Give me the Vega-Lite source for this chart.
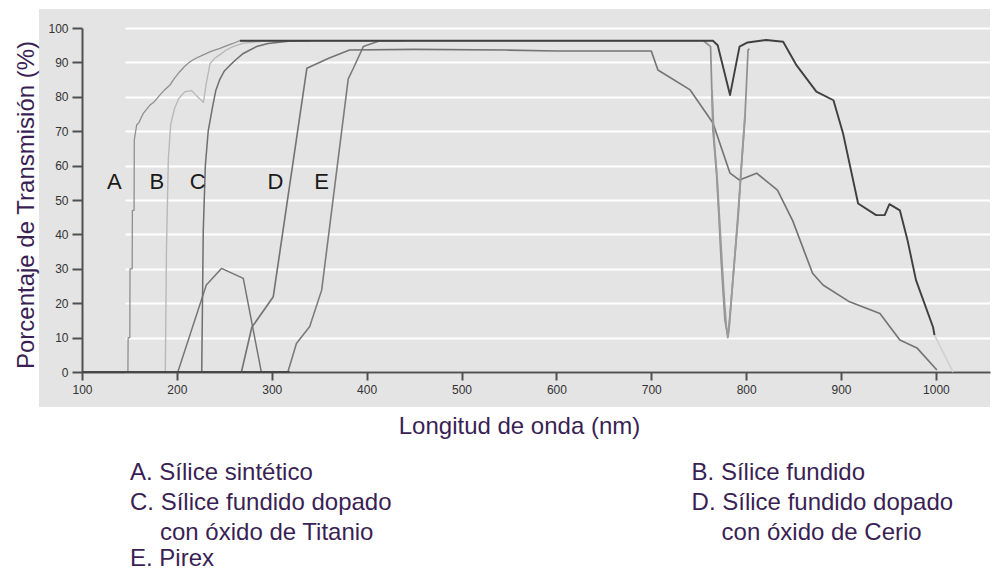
{
  "$schema": "https://vega.github.io/schema/vega-lite/v6.json",
  "width": 951,
  "height": 398,
  "autosize": {"type": "none"},
  "padding": {"left": 39, "top": 9, "right": 4, "bottom": 164},
  "background": "white",
  "resolve": {"axis": {"x": "independent", "y": "independent"}},
  "config": {
    "view": {"fill": "#e4e4e4", "stroke": null},
    "font": "Liberation Sans",
    "axis": {
      "domainColor": "#505050", "domainWidth": 2,
      "tickColor": "#505050", "tickWidth": 2,
      "labelFont": "Liberation Sans", "labelFontSize": 12, "labelColor": "#333333",
      "labelPadding": 4, "labelFlush": false, "labelOverlap": false,
      "labelExpr": "datum.value",
      "titleFont": "Liberation Sans", "titleFontSize": 24, "titleFontWeight": "normal", "titleColor": "#3a1f55",
      "titleAlign": "center", "titleBaseline": "alphabetic"
    },
    "axisX": {"offset": -35, "grid": false, "tickSize": 8, "titleX": 480, "titleY": 61},
    "axisY": {"offset": -43, "grid": true, "gridColor": "#ffffff", "gridWidth": 2, "gridOpacity": 1, "tickSize": 10, "titleAngle": 270, "titleX": -49, "titleY": 195.5}
  },
  "datasets": {
    "curvas": [
      {"tramo": "A", "longitud_nm": 100, "transmision": 0},
      {"tramo": "A", "longitud_nm": 148.4, "transmision": 0},
      {"tramo": "A", "longitud_nm": 148.6, "transmision": 10},
      {"tramo": "A", "longitud_nm": 150.4, "transmision": 10},
      {"tramo": "A", "longitud_nm": 150.6, "transmision": 30},
      {"tramo": "A", "longitud_nm": 152.9, "transmision": 30},
      {"tramo": "A", "longitud_nm": 153.1, "transmision": 47},
      {"tramo": "A", "longitud_nm": 154.9, "transmision": 47},
      {"tramo": "A", "longitud_nm": 155.1, "transmision": 67.4},
      {"tramo": "A", "longitud_nm": 157.6, "transmision": 71.8},
      {"tramo": "A", "longitud_nm": 160, "transmision": 72.5},
      {"tramo": "A", "longitud_nm": 164.6, "transmision": 75.2},
      {"tramo": "A", "longitud_nm": 171.7, "transmision": 77.6},
      {"tramo": "A", "longitud_nm": 176, "transmision": 78.5},
      {"tramo": "A", "longitud_nm": 182, "transmision": 80.5},
      {"tramo": "A", "longitud_nm": 187, "transmision": 82},
      {"tramo": "A", "longitud_nm": 192.7, "transmision": 83.4},
      {"tramo": "A", "longitud_nm": 197, "transmision": 85.2},
      {"tramo": "A", "longitud_nm": 203, "transmision": 87.3},
      {"tramo": "A", "longitud_nm": 208, "transmision": 88.8},
      {"tramo": "A", "longitud_nm": 213.8, "transmision": 90.2},
      {"tramo": "A", "longitud_nm": 220, "transmision": 91.2},
      {"tramo": "A", "longitud_nm": 227.8, "transmision": 92.2},
      {"tramo": "A", "longitud_nm": 236, "transmision": 93.2},
      {"tramo": "A", "longitud_nm": 245.4, "transmision": 94.1},
      {"tramo": "A", "longitud_nm": 252, "transmision": 94.8},
      {"tramo": "A", "longitud_nm": 259, "transmision": 95.5},
      {"tramo": "A", "longitud_nm": 266, "transmision": 96.3},
      {"tramo": "A", "longitud_nm": 760, "transmision": 96.3},

      {"tramo": "B", "longitud_nm": 100, "transmision": 0},
      {"tramo": "B", "longitud_nm": 187.8, "transmision": 0},
      {"tramo": "B", "longitud_nm": 189, "transmision": 35},
      {"tramo": "B", "longitud_nm": 191, "transmision": 62},
      {"tramo": "B", "longitud_nm": 193.5, "transmision": 72},
      {"tramo": "B", "longitud_nm": 197.5, "transmision": 76.6},
      {"tramo": "B", "longitud_nm": 202, "transmision": 79.5},
      {"tramo": "B", "longitud_nm": 208.5, "transmision": 81.5},
      {"tramo": "B", "longitud_nm": 215.6, "transmision": 81.8},
      {"tramo": "B", "longitud_nm": 221, "transmision": 80.2},
      {"tramo": "B", "longitud_nm": 228, "transmision": 78.4},
      {"tramo": "B", "longitud_nm": 231, "transmision": 84},
      {"tramo": "B", "longitud_nm": 235, "transmision": 89.7},
      {"tramo": "B", "longitud_nm": 240, "transmision": 91.2},
      {"tramo": "B", "longitud_nm": 245, "transmision": 92.2},
      {"tramo": "B", "longitud_nm": 252, "transmision": 93.6},
      {"tramo": "B", "longitud_nm": 259, "transmision": 94.6},
      {"tramo": "B", "longitud_nm": 270, "transmision": 95.6},
      {"tramo": "B", "longitud_nm": 290, "transmision": 96.1},
      {"tramo": "B", "longitud_nm": 320, "transmision": 96.3},

      {"tramo": "Cpico", "longitud_nm": 201, "transmision": 0},
      {"tramo": "Cpico", "longitud_nm": 231, "transmision": 25.3},
      {"tramo": "Cpico", "longitud_nm": 247, "transmision": 30.1},
      {"tramo": "Cpico", "longitud_nm": 270, "transmision": 27.2},
      {"tramo": "Cpico", "longitud_nm": 289, "transmision": 0},

      {"tramo": "C", "longitud_nm": 100, "transmision": 0},
      {"tramo": "C", "longitud_nm": 226.2, "transmision": 0},
      {"tramo": "C", "longitud_nm": 227.8, "transmision": 41},
      {"tramo": "C", "longitud_nm": 230, "transmision": 60},
      {"tramo": "C", "longitud_nm": 233, "transmision": 70},
      {"tramo": "C", "longitud_nm": 237.7, "transmision": 77.2},
      {"tramo": "C", "longitud_nm": 241, "transmision": 81.8},
      {"tramo": "C", "longitud_nm": 245, "transmision": 84.9},
      {"tramo": "C", "longitud_nm": 250, "transmision": 87.5},
      {"tramo": "C", "longitud_nm": 256, "transmision": 89.2},
      {"tramo": "C", "longitud_nm": 263, "transmision": 91},
      {"tramo": "C", "longitud_nm": 270, "transmision": 92.6},
      {"tramo": "C", "longitud_nm": 284, "transmision": 94.6},
      {"tramo": "C", "longitud_nm": 296, "transmision": 95.5},
      {"tramo": "C", "longitud_nm": 320, "transmision": 96.2},
      {"tramo": "C", "longitud_nm": 340, "transmision": 96.3},

      {"tramo": "E", "longitud_nm": 100, "transmision": 0},
      {"tramo": "E", "longitud_nm": 317, "transmision": 0},
      {"tramo": "E", "longitud_nm": 326, "transmision": 8.3},
      {"tramo": "E", "longitud_nm": 340, "transmision": 13.2},
      {"tramo": "E", "longitud_nm": 352.6, "transmision": 23.8},
      {"tramo": "E", "longitud_nm": 380.6, "transmision": 85.2},
      {"tramo": "E", "longitud_nm": 386, "transmision": 88.3},
      {"tramo": "E", "longitud_nm": 396.5, "transmision": 94.6},
      {"tramo": "E", "longitud_nm": 414, "transmision": 96.3},
      {"tramo": "E", "longitud_nm": 440, "transmision": 96.3},

      {"tramo": "D", "longitud_nm": 100, "transmision": 0},
      {"tramo": "D", "longitud_nm": 268, "transmision": 0},
      {"tramo": "D", "longitud_nm": 279, "transmision": 13},
      {"tramo": "D", "longitud_nm": 301.6, "transmision": 21.9},
      {"tramo": "D", "longitud_nm": 337, "transmision": 88.3},
      {"tramo": "D", "longitud_nm": 360, "transmision": 91.2},
      {"tramo": "D", "longitud_nm": 382, "transmision": 93.6},
      {"tramo": "D", "longitud_nm": 450, "transmision": 93.8},
      {"tramo": "D", "longitud_nm": 546, "transmision": 93.6},
      {"tramo": "D", "longitud_nm": 600, "transmision": 93.3},
      {"tramo": "D", "longitud_nm": 700, "transmision": 93.3},
      {"tramo": "D", "longitud_nm": 707, "transmision": 87.8},
      {"tramo": "D", "longitud_nm": 741, "transmision": 82},
      {"tramo": "D", "longitud_nm": 765, "transmision": 72.4},
      {"tramo": "D", "longitud_nm": 783, "transmision": 57.8},
      {"tramo": "D", "longitud_nm": 793, "transmision": 55.8},
      {"tramo": "D", "longitud_nm": 811, "transmision": 57.8},
      {"tramo": "D", "longitud_nm": 833, "transmision": 52.9},
      {"tramo": "D", "longitud_nm": 849, "transmision": 44},
      {"tramo": "D", "longitud_nm": 870, "transmision": 28.7},
      {"tramo": "D", "longitud_nm": 881, "transmision": 25.3},
      {"tramo": "D", "longitud_nm": 909, "transmision": 20.4},
      {"tramo": "D", "longitud_nm": 941, "transmision": 17},
      {"tramo": "D", "longitud_nm": 962, "transmision": 9.3},
      {"tramo": "D", "longitud_nm": 980, "transmision": 7},
      {"tramo": "D", "longitud_nm": 1001, "transmision": 0.6},

      {"tramo": "Adip", "longitud_nm": 755, "transmision": 96.3},
      {"tramo": "Adip", "longitud_nm": 762.5, "transmision": 94.6},
      {"tramo": "Adip", "longitud_nm": 765, "transmision": 70.3},
      {"tramo": "Adip", "longitud_nm": 768.8, "transmision": 57.8},
      {"tramo": "Adip", "longitud_nm": 771.3, "transmision": 45.2},
      {"tramo": "Adip", "longitud_nm": 773.4, "transmision": 33.5},
      {"tramo": "Adip", "longitud_nm": 775.8, "transmision": 22.9},
      {"tramo": "Adip", "longitud_nm": 777.6, "transmision": 15.1},
      {"tramo": "Adip", "longitud_nm": 780.2, "transmision": 11.2},
      {"tramo": "Adip", "longitud_nm": 781, "transmision": 10.5},
      {"tramo": "Adip", "longitud_nm": 784.6, "transmision": 21.9},
      {"tramo": "Adip", "longitud_nm": 788, "transmision": 33.5},
      {"tramo": "Adip", "longitud_nm": 791.6, "transmision": 45.2},
      {"tramo": "Adip", "longitud_nm": 795, "transmision": 59.7},
      {"tramo": "Adip", "longitud_nm": 798.6, "transmision": 73.3},
      {"tramo": "Adip", "longitud_nm": 802, "transmision": 93.6},
      {"tramo": "Adip", "longitud_nm": 803.5, "transmision": 94},

      {"tramo": "Bdip", "longitud_nm": 764, "transmision": 82},
      {"tramo": "Bdip", "longitud_nm": 766.3, "transmision": 67.4},
      {"tramo": "Bdip", "longitud_nm": 769.5, "transmision": 56},
      {"tramo": "Bdip", "longitud_nm": 772, "transmision": 44},
      {"tramo": "Bdip", "longitud_nm": 774.5, "transmision": 32},
      {"tramo": "Bdip", "longitud_nm": 777, "transmision": 21},
      {"tramo": "Bdip", "longitud_nm": 779, "transmision": 13.5},
      {"tramo": "Bdip", "longitud_nm": 780.6, "transmision": 10},
      {"tramo": "Bdip", "longitud_nm": 782.3, "transmision": 13.5},
      {"tramo": "Bdip", "longitud_nm": 785.5, "transmision": 25},
      {"tramo": "Bdip", "longitud_nm": 789, "transmision": 37},
      {"tramo": "Bdip", "longitud_nm": 792.5, "transmision": 50},
      {"tramo": "Bdip", "longitud_nm": 796, "transmision": 64},
      {"tramo": "Bdip", "longitud_nm": 798.8, "transmision": 75},

      {"tramo": "cola", "longitud_nm": 998.5, "transmision": 10.7},
      {"tramo": "cola", "longitud_nm": 1018, "transmision": 0},

      {"tramo": "superior", "longitud_nm": 266.5, "transmision": 96.3},
      {"tramo": "superior", "longitud_nm": 765, "transmision": 96.3},
      {"tramo": "superior", "longitud_nm": 770, "transmision": 95},
      {"tramo": "superior", "longitud_nm": 783, "transmision": 80.5},
      {"tramo": "superior", "longitud_nm": 793, "transmision": 94.6},
      {"tramo": "superior", "longitud_nm": 801.5, "transmision": 95.8},
      {"tramo": "superior", "longitud_nm": 821, "transmision": 96.5},
      {"tramo": "superior", "longitud_nm": 839, "transmision": 96},
      {"tramo": "superior", "longitud_nm": 853, "transmision": 89.2},
      {"tramo": "superior", "longitud_nm": 874, "transmision": 81.5},
      {"tramo": "superior", "longitud_nm": 892, "transmision": 79},
      {"tramo": "superior", "longitud_nm": 902, "transmision": 69.5},
      {"tramo": "superior", "longitud_nm": 918, "transmision": 49},
      {"tramo": "superior", "longitud_nm": 937, "transmision": 45.6},
      {"tramo": "superior", "longitud_nm": 946, "transmision": 45.6},
      {"tramo": "superior", "longitud_nm": 951, "transmision": 48.8},
      {"tramo": "superior", "longitud_nm": 962, "transmision": 47},
      {"tramo": "superior", "longitud_nm": 970, "transmision": 38.4},
      {"tramo": "superior", "longitud_nm": 979, "transmision": 26.7},
      {"tramo": "superior", "longitud_nm": 997, "transmision": 13},
      {"tramo": "superior", "longitud_nm": 998.5, "transmision": 10.7},

      {"tramo": "base", "longitud_nm": 100, "transmision": 0},
      {"tramo": "base", "longitud_nm": 319, "transmision": 0}
    ],
    "etiquetas": [
      {"letra": "A", "longitud_nm": 134, "transmision": 53.2},
      {"letra": "B", "longitud_nm": 179, "transmision": 53.2},
      {"letra": "C", "longitud_nm": 222, "transmision": 53.2},
      {"letra": "D", "longitud_nm": 304, "transmision": 53.2},
      {"letra": "E", "longitud_nm": 352.6, "transmision": 53.2}
    ]
  },
  "layer": [
    {
      "data": {"name": "curvas"},
      "transform": [{"filter": "datum.tramo !== 'superior' && datum.tramo !== 'base'"}],
      "mark": {"type": "line", "strokeJoin": "round"},
      "encoding": {
        "x": {
          "field": "longitud_nm", "type": "quantitative",
          "scale": {"domain": [100, 1057], "range": [43, 951], "nice": false, "zero": false},
          "axis": {
            "title": "Longitud de onda (nm)",
            "orient": "bottom",
            "values": [100, 200, 300, 400, 500, 600, 700, 800, 900, 1000]
          }
        },
        "y": {
          "field": "transmision", "type": "quantitative",
          "scale": {"domain": [0, 100], "range": [363, 19], "nice": false, "zero": false},
          "axis": {
            "title": "Porcentaje de Transmisión (%)",
            "orient": "left",
            "values": [0, 10, 20, 30, 40, 50, 60, 70, 80, 90, 100]
          }
        },
        "color": {
          "field": "tramo", "type": "nominal", "legend": null,
          "scale": {
            "domain": ["A", "B", "Cpico", "C", "E", "D", "Adip", "Bdip", "cola", "superior", "base"],
            "range": ["#8f8f8f", "#b8b8b8", "#737373", "#6f6f6f", "#7b7b7b", "#747474", "#8f8f8f", "#9a9a9a", "#d2d2d2", "#404040", "#474747"]
          }
        },
        "strokeWidth": {
          "field": "tramo", "type": "nominal", "legend": null,
          "scale": {
            "domain": ["A", "B", "Cpico", "C", "E", "D", "Adip", "Bdip", "cola", "superior", "base"],
            "range": [1.3, 2, 2.5, 2.5, 2.5, 2.5, 1.2, 1.2, 1.2, 4, 3]
          }
        }
      }
    },
    {
      "data": {"name": "curvas"},
      "transform": [{"filter": "datum.tramo === 'superior' || datum.tramo === 'base'"}],
      "mark": {"type": "line", "strokeJoin": "round"},
      "encoding": {
        "x": {"field": "longitud_nm", "type": "quantitative", "axis": null},
        "y": {"field": "transmision", "type": "quantitative", "axis": null},
        "color": {"field": "tramo", "type": "nominal", "legend": null},
        "strokeWidth": {"field": "tramo", "type": "nominal", "legend": null}
      }
    },
    {
      "data": {"name": "etiquetas"},
      "mark": {"type": "text", "font": "Liberation Sans", "fontSize": 22, "color": "#1a1a1a", "align": "center", "baseline": "alphabetic"},
      "encoding": {
        "x": {"field": "longitud_nm", "type": "quantitative", "axis": null},
        "y": {"field": "transmision", "type": "quantitative", "axis": null},
        "text": {"field": "letra", "type": "nominal"}
      }
    },
    {
      "data": {"values": [{}]},
      "mark": {"type": "text", "font": "Liberation Sans", "fontSize": 24, "color": "#3a1f55", "align": "left", "baseline": "alphabetic"},
      "encoding": {
        "x": {"datum": 150.6, "type": "quantitative", "axis": null},
        "y": {"datum": -31.4, "type": "quantitative", "axis": null},
        "text": {"value": "A. Sílice sintético"}
      }
    },
    {
      "data": {"values": [{}]},
      "mark": {"type": "text", "font": "Liberation Sans", "fontSize": 24, "color": "#3a1f55", "align": "left", "baseline": "alphabetic"},
      "encoding": {
        "x": {"datum": 150.6, "type": "quantitative", "axis": null},
        "y": {"datum": -40.1, "type": "quantitative", "axis": null},
        "text": {"value": "C. Sílice fundido dopado"}
      }
    },
    {
      "data": {"values": [{}]},
      "mark": {"type": "text", "font": "Liberation Sans", "fontSize": 24, "color": "#3a1f55", "align": "left", "baseline": "alphabetic"},
      "encoding": {
        "x": {"datum": 182.2, "type": "quantitative", "axis": null},
        "y": {"datum": -48.8, "type": "quantitative", "axis": null},
        "text": {"value": "con óxido de Titanio"}
      }
    },
    {
      "data": {"values": [{}]},
      "mark": {"type": "text", "font": "Liberation Sans", "fontSize": 24, "color": "#3a1f55", "align": "left", "baseline": "alphabetic"},
      "encoding": {
        "x": {"datum": 150.6, "type": "quantitative", "axis": null},
        "y": {"datum": -56.4, "type": "quantitative", "axis": null},
        "text": {"value": "E. Pirex"}
      }
    },
    {
      "data": {"values": [{}]},
      "mark": {"type": "text", "font": "Liberation Sans", "fontSize": 24, "color": "#3a1f55", "align": "left", "baseline": "alphabetic"},
      "encoding": {
        "x": {"datum": 742.5, "type": "quantitative", "axis": null},
        "y": {"datum": -31.4, "type": "quantitative", "axis": null},
        "text": {"value": "B. Sílice fundido"}
      }
    },
    {
      "data": {"values": [{}]},
      "mark": {"type": "text", "font": "Liberation Sans", "fontSize": 24, "color": "#3a1f55", "align": "left", "baseline": "alphabetic"},
      "encoding": {
        "x": {"datum": 742.5, "type": "quantitative", "axis": null},
        "y": {"datum": -40.1, "type": "quantitative", "axis": null},
        "text": {"value": "D. Sílice fundido dopado"}
      }
    },
    {
      "data": {"values": [{}]},
      "mark": {"type": "text", "font": "Liberation Sans", "fontSize": 24, "color": "#3a1f55", "align": "left", "baseline": "alphabetic"},
      "encoding": {
        "x": {"datum": 774.1, "type": "quantitative", "axis": null},
        "y": {"datum": -48.8, "type": "quantitative", "axis": null},
        "text": {"value": "con óxido de Cerio"}
      }
    }
  ]
}
